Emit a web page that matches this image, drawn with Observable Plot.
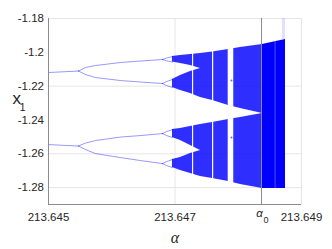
<!DOCTYPE html>
<html><head><meta charset="utf-8">
<script src="https://cdn.jsdelivr.net/npm/d3@7"></script>
<script src="https://cdn.jsdelivr.net/npm/@observablehq/plot@0.6"></script>
<style>
body{margin:0;background:#fff;}
#chart{width:332px;height:249px;}
</style>
</head><body><div id="chart"></div>
<script>
// axes
const xDomain = [213.645, 213.649];
const yDomain = [-1.29, -1.18];
const xTicks = [213.645, 213.647, 213.649];
const yTicks = [-1.18, -1.2, -1.22, -1.24, -1.26, -1.28];
const yGrid = [-1.22, -1.26, -1.28];
const xGrid = [213.647];
const alpha0 = 213.648368;

// period-2 stems
const stemX = [213.645, 213.645474];
const stemUpper = [-1.21195, -1.21107];
const stemLower = [-1.25456, -1.25544];

// period-4 branches
const p4X = [213.645474, 213.645585, 213.645743, 213.646138, 213.646455, 213.646802];
const p4UU = [-1.21107, -1.20899, -1.20781, -1.20604, -1.20515, -1.20426];
const p4UL = [-1.21107, -1.21314, -1.21491, -1.21669, -1.21757, -1.21846];
const p4LU = [-1.25544, -1.25367, -1.25219, -1.25012, -1.24923, -1.24805];
const p4LL = [-1.25544, -1.25751, -1.25988, -1.26225, -1.26402, -1.26580];

// period-8 branches
const p8X = [213.646802, 213.646866, 213.646960];
const p8UUa = [-1.20426, -1.20337, -1.20249];
const p8UUb = [-1.20426, -1.20503, -1.20574];
const p8ULa = [-1.21846, -1.21728, -1.21609];
const p8ULb = [-1.21846, -1.21964, -1.22083];
const p8LUa = [-1.24805, -1.24686, -1.24568];
const p8LUb = [-1.24805, -1.24923, -1.25041];
const p8LLa = [-1.26580, -1.26462, -1.26343];
const p8LLb = [-1.26580, -1.26698, -1.26817];

// four chaotic sub-bands
const chaosX = [213.646960, 213.647087, 213.647245, 213.647403];
const bandUUtop = [-1.20249, -1.20189, -1.20130, -1.20071];
const bandUUbot = [-1.20574, -1.20663, -1.20781, -1.20959];
const bandULtop = [-1.21609, -1.21373, -1.21136, -1.20959];
const bandULbot = [-1.22083, -1.22260, -1.22438, -1.22675];
const bandLUtop = [-1.24568, -1.24509, -1.24391, -1.24272];
const bandLUbot = [-1.25041, -1.25219, -1.25515, -1.25811];
const bandLLtop = [-1.26343, -1.26225, -1.25988, -1.25811];
const bandLLbot = [-1.26817, -1.26994, -1.27172, -1.27349];

// two merged bands
const mergedX = [213.647403, 213.647593, 213.647846, 213.648036, 213.648383];
const upperTop = [-1.20071, -1.19982, -1.19834, -1.19716, -1.19538];
const upperBot = [-1.22675, -1.22852, -1.23148, -1.23325, -1.23621];
const lowerTop = [-1.24272, -1.24154, -1.23976, -1.23858, -1.23621];
const lowerBot = [-1.27349, -1.27467, -1.27645, -1.27822, -1.28059];

// after crisis
const crisisX = [213.648383, 213.648747];
const crisisTop = [-1.19538, -1.19243];
const crisisBot = [-1.28059, -1.28059];

// periodic windows
const windowX1 = [213.647277, 213.647593, 213.647841];
const windowX2 = [213.647295, 213.647612, 213.647929];
const windowTop = [-1.1990, -1.1990, -1.1970];
const windowBot = [-1.2750, -1.2770, -1.2785];
const faintX1 = [213.648582];
const faintX2 = [213.648598];
const faintTop = [-1.1930];
const faintBot = [-1.2810];
const windowDotX = [213.647893, 213.647893];
const windowDotY = [-1.21669, -1.25041];

// sparse points above the band
const sparseX1 = [213.648700];
const sparseX2 = [213.648747];
const sparseTop = [-1.1800];
const sparseBot = [-1.1925];

function lineRows(name, xs, ys) { return xs.map((x, i) => ({branch: name, x, y: ys[i]})); }
function bandRows(name, xs, tops, bots) { return xs.map((x, i) => ({band: name, x, hi: tops[i], lo: bots[i]})); }

const lines = [
  ...lineRows("sU", stemX, stemUpper), ...lineRows("sL", stemX, stemLower),
  ...lineRows("UU", p4X, p4UU), ...lineRows("UL", p4X, p4UL),
  ...lineRows("LU", p4X, p4LU), ...lineRows("LL", p4X, p4LL),
  ...lineRows("UUa", p8X, p8UUa), ...lineRows("UUb", p8X, p8UUb),
  ...lineRows("ULa", p8X, p8ULa), ...lineRows("ULb", p8X, p8ULb),
  ...lineRows("LUa", p8X, p8LUa), ...lineRows("LUb", p8X, p8LUb),
  ...lineRows("LLa", p8X, p8LLa), ...lineRows("LLb", p8X, p8LLb)
];
const bands = [
  ...bandRows("UU", chaosX, bandUUtop, bandUUbot), ...bandRows("UL", chaosX, bandULtop, bandULbot),
  ...bandRows("LU", chaosX, bandLUtop, bandLUbot), ...bandRows("LL", chaosX, bandLLtop, bandLLbot),
  ...bandRows("U", mergedX, upperTop, upperBot), ...bandRows("L", mergedX, lowerTop, lowerBot)
];
const crisis = bandRows("C", crisisX, crisisTop, crisisBot);

const txt = "#262626";
const plot = Plot.plot({
  width: 332, height: 249,
  marginLeft: 48, marginRight: 31, marginTop: 18, marginBottom: 45,
  style: {fontFamily: "'Liberation Sans', Arial, sans-serif", fontSize: "11.5px", color: txt, background: "#fff"},
  x: {domain: xDomain},
  y: {domain: yDomain},
  marks: [
    Plot.gridY(yGrid, {stroke: "#e6e6e6", strokeOpacity: 1}),
    Plot.gridX(xGrid, {stroke: "#e6e6e6", strokeOpacity: 1}),
    Plot.ruleY([yDomain[1]], {stroke: "#e6e6e6"}),
    Plot.ruleX([xDomain[1]], {stroke: "#e6e6e6"}),
    Plot.rect(sparseX1, {x1: sparseX1, x2: sparseX2, y1: sparseTop, y2: sparseBot, fill: "#6a6aff", fillOpacity: 0.2}),
    Plot.areaY(bands, {x: "x", y1: "lo", y2: "hi", z: "band", fill: "#0000ff", fillOpacity: 0.82}),
    Plot.areaY(crisis, {x: "x", y1: "lo", y2: "hi", z: "band", fill: "#0000ff", fillOpacity: 1}),
    Plot.rect(windowX1, {x1: windowX1, x2: windowX2, y1: windowTop, y2: windowBot, fill: "white"}),
    Plot.rect(faintX1, {x1: faintX1, x2: faintX2, y1: faintTop, y2: faintBot, fill: "white", fillOpacity: 0.3}),
    Plot.dot(windowDotX, {x: windowDotX, y: windowDotY, r: 1, fill: "#0000ff", fillOpacity: 0.6}),
    Plot.line(lines, {x: "x", y: "y", z: "branch", stroke: "#0000ff", strokeOpacity: 0.45, strokeWidth: 0.9}),
    Plot.ruleX([alpha0], {stroke: "#8c8c8c", strokeWidth: 1}),
    Plot.ruleX([xDomain[0]], {stroke: "#8c8c8c"}),
    Plot.ruleY([yDomain[0]], {stroke: "#8c8c8c"}),
    Plot.axisX(xTicks, {tickSize: 0, tickPadding: 8, tickFormat: d => d.toFixed(3), label: null, fill: txt}),
    Plot.axisY(yTicks, {tickSize: 0, tickPadding: 4.5, tickFormat: d => String(d), label: null, fill: txt}),
    Plot.text([alpha0], {x: d => d, frameAnchor: "bottom", text: () => "α", dx: -2, dy: 12, fontSize: 11.5, fontStyle: "italic", fill: txt}),
    Plot.text([alpha0], {x: d => d, frameAnchor: "bottom", text: () => "0", dx: 4.5, dy: 18, fontSize: 9, fill: txt}),
    Plot.text(["α"], {frameAnchor: "bottom", dy: 38, fontSize: 16, fontStyle: "italic", fontFamily: "'Liberation Serif', serif", fill: txt}),
    Plot.text(["x"], {frameAnchor: "left", dx: -36, dy: -13, fontSize: 17, fill: txt}),
    Plot.text(["1"], {frameAnchor: "left", dx: -29, dy: -4, fontSize: 11, fill: txt})
  ]
});
document.getElementById("chart").appendChild(plot);
</script>
</body></html>
